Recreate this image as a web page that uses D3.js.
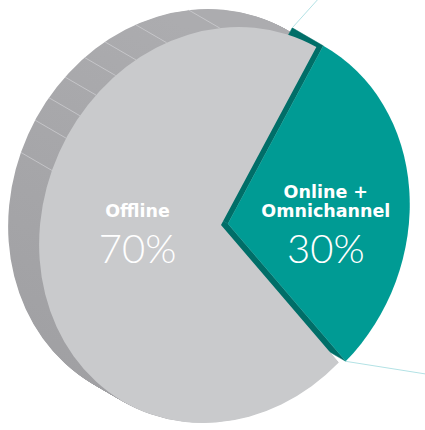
<!DOCTYPE html>
<html>
<head>
<meta charset="utf-8">
<script src="https://cdn.jsdelivr.net/npm/d3@7"></script>
<style>
  html, body { margin: 0; padding: 0; background: #ffffff; }
  svg { display: block; }
</style>
</head>
<body>
<script>
// Sales channel split
const categories = ["Online + Omnichannel", "Offline"];
const nameLines = [["Online +", "Omnichannel"], ["Offline"]];
const shares = [30, 70];
const shareLabels = ["30%", "70%"];

const faceColors = ["#009b94", "#c9cacc"];
const edgeTeal = "#006e68";

const W = 425, H = 430;
// Disc geometry: front face ellipse, skewed slightly for perspective
const cx = 221, cy = 225, rx = 181, ry = 198, skew = -0.09;
const depth = [-31, -18];          // vector from front face to back face
const startDeg = 26;               // where the first slice begins (clockwise from 12 o'clock)
const explode = 7;                 // how far the teal slice is pulled out
const seamDeg = [-6, -23, -33.5, -41, -49, -56.5, -64, -74]; // facet seams on the rim

const rad = d => d * Math.PI / 180;

const pie = d3.pie().sort(null).value(d => d)
  .startAngle(rad(startDeg)).endAngle(rad(startDeg) + 2 * Math.PI);
const arcs = pie(shares);

// explode offsets per slice
const offsets = arcs.map((a, i) => {
  if (i !== 0) return [0, 0];
  const m = (a.startAngle + a.endAngle) / 2;
  return [explode * Math.sin(m), -explode * Math.cos(m)];
});

function toScreen(ang, r, off) {
  const x = r * rx * Math.sin(ang), y = -r * ry * Math.cos(ang);
  return [cx + x + skew * y + off[0], cy + y + off[1]];
}
const add = (p, v) => [p[0] + v[0], p[1] + v[1]];

const svg = d3.select("body").append("svg")
  .attr("width", W).attr("height", H)
  .attr("viewBox", `0 0 ${W} ${H}`);

const defs = svg.append("defs");
const rimGrad = defs.append("linearGradient").attr("id", "rimShade")
  .attr("gradientUnits", "userSpaceOnUse")
  .attr("x1", 230).attr("y1", 10).attr("x2", 70).attr("y2", 390);
[["0", "#acacaf"], ["0.45", "#a0a0a3"], ["1", "#939396"]].forEach(([o, c]) =>
  rimGrad.append("stop").attr("offset", o).attr("stop-color", c));

const unitArc = d3.arc().innerRadius(0).outerRadius(100);
const faceTransform = off =>
  `matrix(${rx / 100},0,${skew * ry / 100},${ry / 100},${cx + off[0]},${cy + off[1]})`;

// ---- rim of the grey slice: the face swept back along the depth vector ----
const grey = arcs[1];
const sweep = d3.range(1, 41).map(k => k / 40);
svg.append("g").selectAll("path.rim").data(sweep).join("path")
  .attr("class", "rim")
  .attr("d", unitArc(grey))
  .attr("transform", t => faceTransform([depth[0] * t, depth[1] * t]))
  .attr("fill", "url(#rimShade)");

svg.append("g").selectAll("line.seam").data(seamDeg).join("line")
  .attr("class", "seam")
  .each(function (d) {
    const p = toScreen(rad(d), 1, offsets[1]);
    const q = add(p, depth);
    d3.select(this).attr("x1", p[0]).attr("y1", p[1]).attr("x2", q[0]).attr("y2", q[1]);
  })
  .attr("stroke", "#d6d6d9").attr("stroke-width", 0.8).attr("opacity", 0.8);

// ---- cut faces of the teal slice ----
const teal = arcs[0];
const cT = [cx + offsets[0][0], cy + offsets[0][1]];
[teal.startAngle, teal.endAngle].forEach(a => {
  const p = toScreen(a, 1, offsets[0]);
  svg.append("path")
    .attr("d", d3.line()([cT, p, add(p, depth), add(cT, depth)]) + "Z")
    .attr("fill", edgeTeal).attr("stroke", edgeTeal).attr("stroke-width", 0.5);
});

// ---- front faces ----
svg.append("g").selectAll("path.face").data([arcs[1], arcs[0]]).join("path")
  .attr("class", "face")
  .attr("d", d => unitArc(d))
  .attr("transform", d => faceTransform(offsets[d.index]))
  .attr("fill", d => faceColors[d.index]);

// ---- leader lines ----
const leadColor = "#b3e2e5";
{
  const pTop = add(toScreen(teal.startAngle, 1, offsets[0]), depth);
  const pBot = toScreen(teal.endAngle, 1, offsets[0]);
  const dirTop = [Math.cos(rad(-48)), Math.sin(rad(-48))];
  const dirBot = [Math.cos(rad(9)), Math.sin(rad(9))];
  svg.append("line").attr("x1", pTop[0]).attr("y1", pTop[1])
    .attr("x2", pTop[0] + dirTop[0] * 60).attr("y2", pTop[1] + dirTop[1] * 60)
    .attr("stroke", leadColor).attr("stroke-width", 1);
  svg.append("line").attr("x1", pBot[0]).attr("y1", pBot[1])
    .attr("x2", pBot[0] + dirBot[0] * 120).attr("y2", pBot[1] + dirBot[1] * 120)
    .attr("stroke", leadColor).attr("stroke-width", 1);
}

// ---- labels ----
const labels = svg.append("g").attr("fill", "#ffffff").attr("text-anchor", "middle");
arcs.forEach((a, i) => {
  const m = (a.startAngle + a.endAngle) / 2;
  const r = i === 0 ? 0.54 : 0.46;
  const x = toScreen(m, r, offsets[i])[0];
  const base = 217;
  const lines = nameLines[i];
  lines.forEach((t, k) => {
    labels.append("text")
      .attr("x", x).attr("y", base - (lines.length - 1 - k) * 19)
      .attr("font-family", "'DejaVu Sans', sans-serif")
      .attr("font-weight", 700).attr("font-size", 17.5)
      .text(t);
  });
  labels.append("text")
    .attr("x", x).attr("y", 263)
    .attr("font-family", "Lato, 'Open Sans', sans-serif")
    .attr("font-weight", 300).attr("font-size", 40)
    .text(shareLabels[i]);
});
</script>
</body>
</html>
